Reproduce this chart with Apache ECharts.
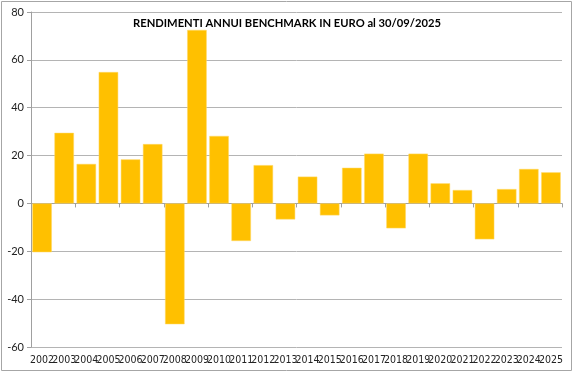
<!DOCTYPE html>
<html>
<head>
<meta charset="utf-8">
<script src="https://cdn.jsdelivr.net/npm/echarts@6/dist/echarts.min.js"></script>
<style>html,body{margin:0;padding:0;background:#fff}#c{width:574px;height:373px}</style>
</head>
<body>
<div id="c"></div>
<script>
const titleText = "RENDIMENTI ANNUI BENCHMARK IN EURO al 30/09/2025";
const years = ["2002","2003","2004","2005","2006","2007","2008","2009","2010","2011","2012","2013","2014","2015","2016","2017","2018","2019","2020","2021","2022","2023","2024","2025"];
const returns = [-20.4,29.5,16.5,54.9,18.4,24.8,-50.5,72.5,28.2,-15.7,16.0,-6.7,11.2,-5.0,14.9,20.8,-10.4,20.8,8.4,5.6,-15.0,6.0,14.4,13.0];

const chart = echarts.init(document.getElementById('c'), null, {renderer:'canvas'});
const font = 'Lato';
const narrow = '"Liberation Sans Narrow", "DejaVu Sans Condensed", Lato';
chart.setOption({
  animation:false,
  backgroundColor:'#fff',
  title:{text:titleText,left:282,top:13,textAlign:'center',textStyle:{fontFamily:font,fontWeight:'bold',fontSize:11.2,color:'#000'}},
  grid:{left:31,right:12,top:12,bottom:26,containLabel:false},
  xAxis:[{
    type:'category',data:years,position:'bottom',
    axisLine:{onZero:true,lineStyle:{color:'#a0a0a0',width:1}},
    axisTick:{show:true,length:4,lineStyle:{color:'#a0a0a0'}},
    axisLabel:{show:false},splitLine:{show:false}
  },{
    type:'category',data:years,position:'bottom',
    axisLine:{show:false,onZero:false},axisTick:{show:false},
    axisLabel:{fontFamily:narrow,fontSize:10.5,color:'#222',margin:8,interval:0},splitLine:{show:false}
  }],
  yAxis:{
    type:'value',min:-60,max:80,interval:20,
    axisLine:{show:true,lineStyle:{color:'#a0a0a0'}},
    axisTick:{show:true,length:4,lineStyle:{color:'#a0a0a0'}},
    axisLabel:{fontFamily:font,fontSize:11,color:'#222',margin:7},
    splitLine:{show:true,lineStyle:{color:'#b4b4b4',width:1}}
  },
  series:[{
    type:'bar',data:returns,xAxisIndex:0,barCategoryGap:'12%',
    itemStyle:{color:'#FFC000',borderColor:'#FFD966',borderWidth:0.5}
  }],
  graphic:[{type:'rect',shape:{x:1.5,y:1.5,width:570,height:369},style:{fill:null,stroke:'#a6a6a6',lineWidth:1},silent:true,z:100}]
});
</script>
</body>
</html>
